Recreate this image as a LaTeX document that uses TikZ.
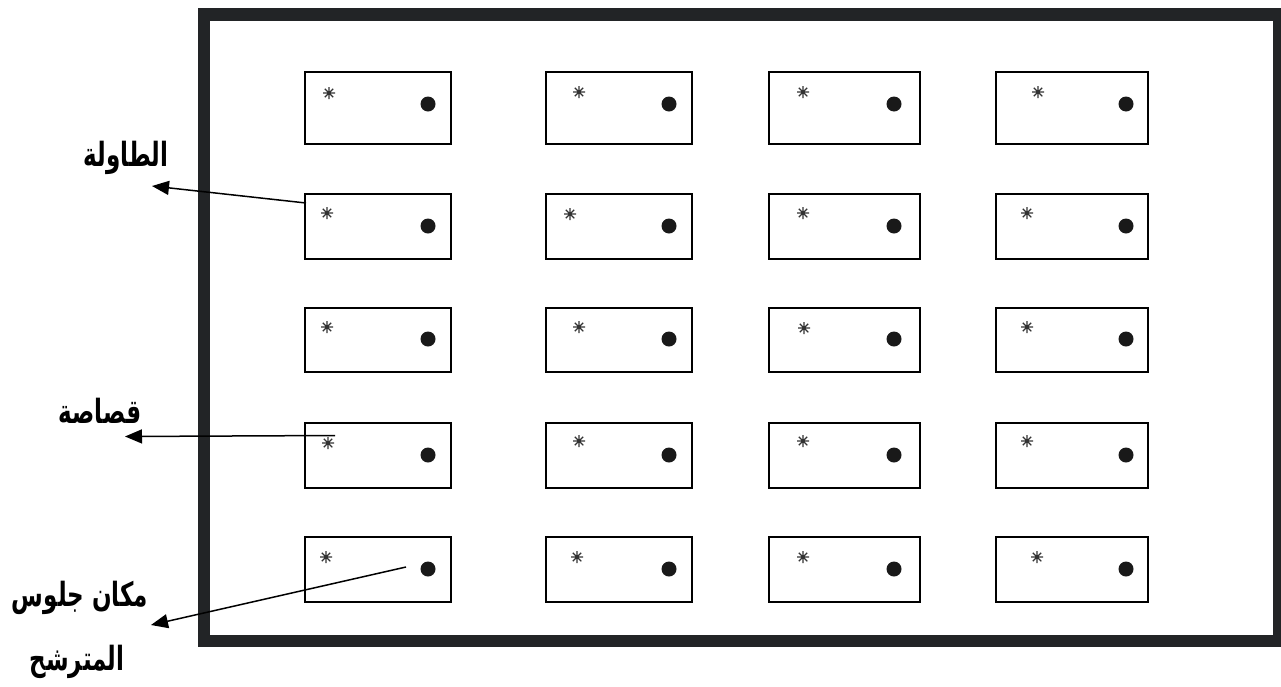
\documentclass[tikz,border=0pt]{standalone}
\usepackage{fontspec}
\usepackage{graphicx}
\usetikzlibrary{arrows.meta}
\TeXXeTstate=1
\newfontfamily\arabicfont[Script=Arabic]{DejaVu Sans}
\definecolor{framec}{HTML}{222426}
\newcommand{\artxt}[1]{\scalebox{1}[1.45]{\beginR #1\endR}}
\begin{document}
\begin{tikzpicture}[x=1pt,y=-1pt,
  tablebox/.style={draw, line width=1.2pt, inner sep=0pt, outer sep=0pt, anchor=north west},
  dotmark/.style={circle, fill=black!90, minimum size=15pt, inner sep=0pt},
  astmark/.style={circle, minimum size=12pt, inner sep=0pt, outer sep=0pt},
  astline/.style={line width=1.2pt, black!80},
  arr/.style={line width=1.5pt, -{Triangle[length=17pt,width=14pt]}},
  lbl/.style={font=\arabicfont\bfseries\fontsize{23}{27}\selectfont, inner sep=0pt, align=center}
]
\useasboundingbox (0,0) rectangle (1281,686);
\fill[white] (0,0) rectangle (1281,686);
% outer frame
\draw[line width=12.5pt, framec] (204,14.5) rectangle (1279,641);
% tables
\foreach \xl/\xr [count=\i] in {305/451,546/692,769/920,996/1148}{
  \foreach \yt/\yb [count=\j] in {72/144,194/259,308/372,423/488,537/602}{
    \pgfmathsetmacro{\w}{\xr-\xl}
    \pgfmathsetmacro{\h}{\yb-\yt}
    \node[tablebox, minimum width=\w pt, minimum height=\h pt] (t\i\j) at (\xl,\yt) {};
  }
}
% dots
\foreach \x [count=\i] in {428,669,894,1126}{
  \foreach \y [count=\j] in {104,226,339,455,569}{
    \node[dotmark] (d\i\j) at (\x,\y) {};
  }
}
% asterisks
\foreach \x/\y/\n in {
  329/93/11, 327/213/12, 327/327/13, 328/443/14, 326/557/15,
  579/92/21, 570/214/22, 579/327/23, 579/441/24, 577/557/25,
  803/92/31, 803/213/32, 804/328/33, 803/441/34, 803/557/35,
  1038/92/41, 1027/213/42, 1027/327/43, 1027/441/44, 1037/557/45}{
  \node[astmark] (s\n) at (\x,\y) {};
  \draw[astline] (s\n.0) -- (s\n.180) (s\n.45) -- (s\n.225) (s\n.90) -- (s\n.270) (s\n.135) -- (s\n.315);
}
% labels
\node[lbl] (L1) at (126,158) {\artxt{الطاولة}};
\node[lbl] (L2) at (100,411) {\artxt{قصاصة}};
\node[lbl] (L3a) at (80,598) {\artxt{مكان جلوس}};
\node[lbl] (L3b) at (77,662) {\artxt{المترشح}};
% connectors
\coordinate (p1) at (306,203);
\coordinate (q1) at (152,186);
\coordinate (p2) at (335,435.5);
\coordinate (q2) at (125,436.5);
\coordinate (p3) at (406,567);
\coordinate (q3) at (151,625);
\draw[arr] (p1) -- (q1);
\draw[arr] (p2) -- (q2);
\draw[arr] (p3) -- (q3);
\end{tikzpicture}
\end{document}
